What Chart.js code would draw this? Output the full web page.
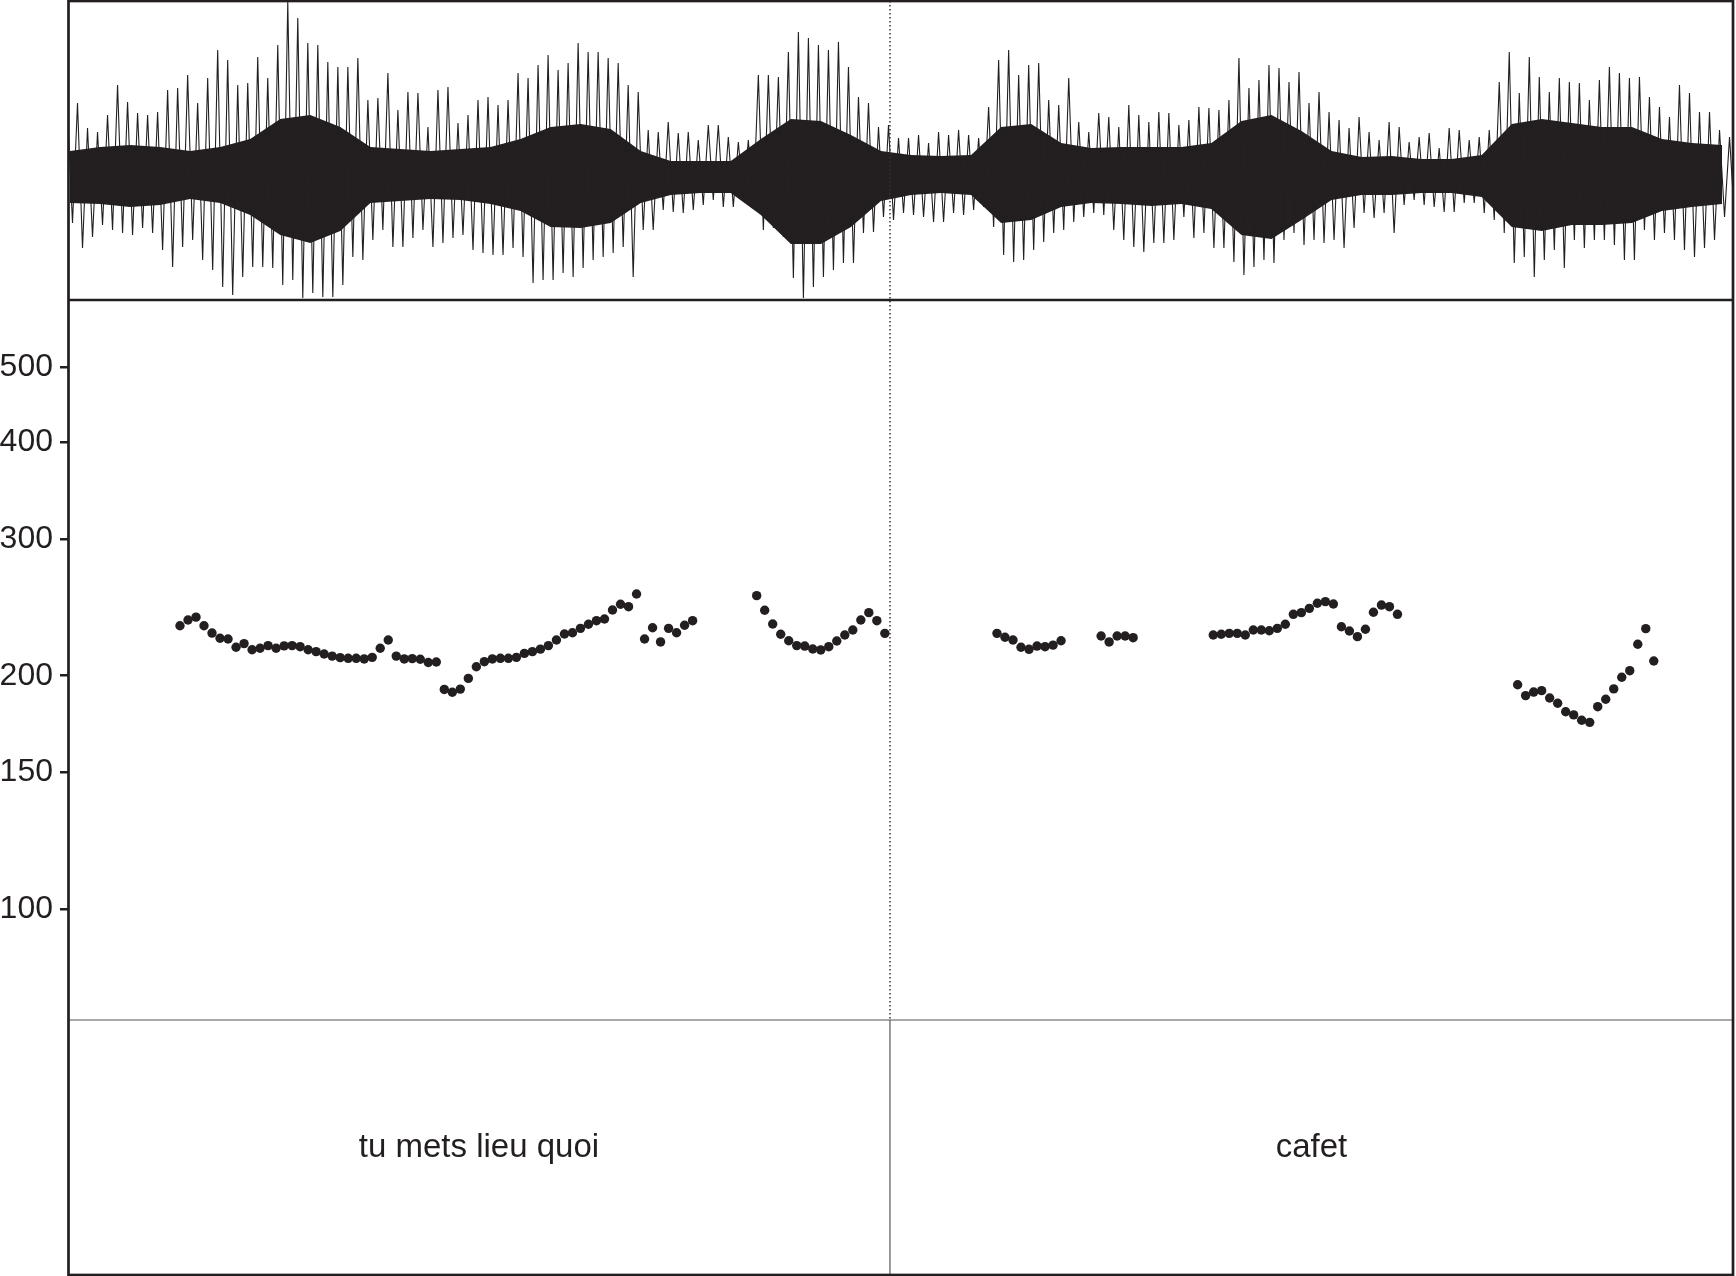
<!DOCTYPE html>
<html><head><meta charset="utf-8">
<script src="https://cdn.jsdelivr.net/npm/chart.js@4.4.1/dist/chart.umd.min.js"></script>
<style>html,body{margin:0;padding:0;background:#fff;}canvas{display:block;}</style>
</head><body>
<canvas id="c" width="1736" height="1276"></canvas>
<script>
// ---- time axis (seconds) ----
const duration = 2.0787;
const boundaryTime = 1.0262;

// ---- text tier ----
const tierLabels = ["tu mets lieu quoi", "cafet"];
const tierStarts = [0, 1.0262];
const tierEnds = [1.0262, 2.0787];

// ---- pitch (Hz), one value per 10 ms frame, null = unvoiced ----
const pitchTicks = [100, 150, 200, 300, 400, 500];
const pitchStart = 0.1398;
const pitchStep = 0.01;
const f0Hz = [
  232, 236, 238, 232, 227, 223.5, 223, 217.6, 220, 216,
  217, 218.7, 217, 218.5, 218.7, 218, 216, 214.8, 213.3, 212,
  211, 210.6, 210.6, 210.2, 211.2, 217, 222.4, 212, 210.2, 210.4,
  210, 208, 208.3, 192, 190.4, 192.2, 198.4, 205.4, 208.5, 210.2,
  210.6, 210.6, 211.2, 213.7, 214.8, 216.4, 218.7, 222.4, 226.4, 227.2,
  230.2, 233, 235.5, 236.7, 243.1, 247.3, 245.5, 254.9, 223, 230.6,
  221.1, 230.2, 227.2, 232.3, 235.5, null, null, null, null, null,
  null, null, 253.7, 242.9, 233.2, 226.2, 221.9, 218.7, 218.4, 216.5,
  215.9, 218, 221.7, 225.7, 229.1, 236, 241.2, 235.5, 226.8, null,
  null, null, null, null, null, null, null, null, null, null,
  null, null, 226.8, 224.2, 222.4, 217.6, 216.3, 218.4, 218, 219,
  221.9, null, null, null, null, 225, 221.1, 225, 225, 223.9,
  null, null, null, null, null, null, null, null, null, 225.7,
  226.2, 226.8, 226.8, 225.7, 229.1, 229.1, 228.6, 230.2, 233, 240,
  241.2, 244.3, 248, 249.2, 247.5, 231.3, 228.4, 224.6, 229.6, 241.5,
  246.7, 245.5, 240, null, null, null, null, null, null, null,
  null, null, null, null, null, null, null, 194.7, 188.5, 190.5,
  191.3, 187.2, 184.3, 179.7, 178, 175.2, 174.1, 182.4, 186.5, 192.3,
  199.1, 203, 219.6, 230, 208.9
];

// ---- waveform: peak envelope per 12.5 ms bin (arbitrary amplitude units) ----
const waveStart = 0.0025;
const waveStep = 0.0125;
const wavePeakHi = [
  61, 71, 46, 42, 59, 89, 72, 61, 59, 62,
  84, 86, 99, 71, 96, 124, 114, 89, 91, 117,
  96, 129, 172, 156, 131, 129, 112, 107, 107, 116,
  74, 76, 101, 64, 82, 81, 47, 84, 87, 51,
  59, 74, 77, 69, 74, 101, 96, 109, 119, 104,
  111, 131, 122, 122, 116, 111, 89, 82, 44, 42,
  52, 41, 42, 34, 49, 49, 37, 32, 34, 99,
  99, 97, 122, 142, 136, 129, 124, 132, 107, 77,
  71, 47, 49, 36, 36, 39, 31, 42, 39, 44,
  39, 36, 67, 114, 124, 99, 109, 111, 74, 69,
  96, 52, 42, 61, 57, 47, 69, 59, 52, 62,
  61, 49, 54, 67, 66, 64, 74, 116, 86, 94,
  109, 106, 92, 102, 71, 82, 62, 54, 46, 57,
  42, 34, 52, 47, 32, 37, 41, 26, 46, 44,
  34, 37, 44, 92, 122, 81, 117, 97, 82, 96,
  92, 91, 74, 94, 107, 101, 96, 97, 77, 67,
  57, 89, 81, 62, 62, 44, 37
];
const wavePeakLo = [
  -49, -74, -63, -51, -56, -59, -61, -54, -59, -76,
  -93, -73, -66, -86, -96, -113, -121, -103, -93, -93,
  -94, -111, -106, -124, -119, -123, -123, -111, -83, -86,
  -66, -56, -73, -73, -64, -56, -73, -69, -64, -61,
  -76, -79, -81, -81, -74, -83, -109, -106, -106, -99,
  -103, -94, -86, -83, -79, -73, -103, -56, -56, -36,
  -38, -39, -36, -31, -26, -33, -33, -23, -33, -56,
  -54, -63, -104, -124, -113, -103, -96, -89, -89, -59,
  -58, -43, -46, -39, -41, -43, -48, -48, -39, -41,
  -36, -33, -53, -81, -88, -86, -76, -68, -59, -56,
  -48, -43, -39, -41, -56, -66, -73, -78, -69, -69,
  -66, -43, -64, -59, -74, -74, -88, -101, -93, -86,
  -89, -66, -59, -71, -66, -69, -66, -74, -54, -39,
  -44, -39, -59, -31, -26, -31, -33, -38, -38, -29,
  -29, -39, -46, -59, -89, -83, -103, -86, -76, -94,
  -66, -74, -66, -66, -71, -86, -86, -56, -66, -59,
  -66, -76, -83, -74, -66, -43, -46
];
// solid core of the waveform per 37.5 ms bin
const coreStart = 0.0025;
const coreStep = 0.0375;
const waveCoreHi = [
  23, 27, 29, 27, 23, 27, 35, 55, 59, 47,
  27, 25, 23, 25, 27, 35, 47, 50, 45, 23,
  13, 13, 13, 35, 55, 53, 39, 23, 19, 18,
  19, 47, 50, 31, 26, 27, 27, 27, 31, 53,
  59, 43, 23, 17, 18, 15, 15, 19, 50, 55,
  51, 47, 47, 35, 31, 29
];
const waveCoreLo = [
  -29, -30, -33, -31, -25, -29, -41, -61, -69, -57,
  -29, -27, -25, -26, -30, -37, -53, -54, -49, -29,
  -21, -19, -19, -41, -70, -70, -53, -27, -21, -19,
  -21, -49, -46, -33, -29, -30, -32, -30, -35, -61,
  -65, -46, -26, -21, -21, -19, -19, -23, -53, -57,
  -51, -51, -49, -37, -33, -30
];

// ---- build library data ----
const pitchData = [];
f0Hz.forEach((v, i) => { if (v !== null) pitchData.push({x: pitchStart + i * pitchStep, y: v}); });
const waveData = [];
wavePeakHi.forEach((hi, k) => {
  const t = waveStart + k * waveStep;
  waveData.push({x: t - waveStep / 4, y: hi});
  waveData.push({x: t + waveStep / 4, y: wavePeakLo[k]});
});
const coreHiData = waveCoreHi.map((v, k) => ({x: coreStart + k * coreStep, y: v}));
const coreLoData = waveCoreLo.map((v, k) => ({x: coreStart + k * coreStep, y: v}));

const INK = '#231f20';
const FONT = '"Liberation Sans", Arial, Helvetica, sans-serif';

const framePlugin = {
  id: 'frame',
  afterDraw(chart) {
    const {ctx, chartArea: a, scales: s} = chart;
    const xb = s.x.getPixelForValue(boundaryTime);
    ctx.save();
    ctx.strokeStyle = '#333';
    ctx.lineWidth = 1.5;
    ctx.setLineDash([1.5, 2.5]);
    ctx.beginPath(); ctx.moveTo(xb, s.yWave.top); ctx.lineTo(xb, s.yPitch.bottom); ctx.stroke();
    ctx.setLineDash([]);
    ctx.strokeStyle = '#555';
    ctx.lineWidth = 1.2;
    ctx.beginPath(); ctx.moveTo(xb, s.yTier.top); ctx.lineTo(xb, s.yTier.bottom); ctx.stroke();
    ctx.beginPath(); ctx.moveTo(a.left, s.yPitch.bottom); ctx.lineTo(a.right, s.yPitch.bottom); ctx.stroke();
    ctx.strokeStyle = INK;
    ctx.lineWidth = 2.7;
    ctx.beginPath(); ctx.moveTo(a.left, s.yWave.bottom); ctx.lineTo(a.right, s.yWave.bottom); ctx.stroke();
    ctx.strokeRect(a.left + 0.5, a.top, a.right - a.left - 0.5, a.bottom - a.top);
    ctx.fillStyle = INK;
    ctx.font = '33px ' + FONT;
    ctx.textAlign = 'center';
    ctx.textBaseline = 'middle';
    const yMid = s.yTier.getPixelForValue(0.5);
    tierLabels.forEach((lab, i) => {
      const xm = s.x.getPixelForValue((tierStarts[i] + tierEnds[i]) / 2);
      ctx.fillText(lab, xm, yMid);
    });
    ctx.restore();
  }
};

const fixBox = s => {
  s.width = 68;
  s.paddingTop = 0; s.paddingBottom = 0; s.paddingLeft = 0; s.paddingRight = 0;
};

new Chart(document.getElementById('c'), {
  type: 'line',
  data: {
    datasets: [
      {label: 'F0', data: pitchData, yAxisID: 'yPitch', showLine: false,
       pointRadius: 4.7, pointBackgroundColor: INK, pointBorderWidth: 0, pointBorderColor: INK},
      {label: 'waveform', data: waveData, yAxisID: 'yWave', borderColor: INK,
       borderWidth: 1.1, pointRadius: 0, tension: 0, fill: false},
      {label: 'coreHi', data: coreHiData, yAxisID: 'yWave', borderWidth: 0,
       borderColor: INK, pointRadius: 0, tension: 0, fill: false},
      {label: 'coreLo', data: coreLoData, yAxisID: 'yWave', borderWidth: 0,
       borderColor: INK, pointRadius: 0, tension: 0, fill: '-1', backgroundColor: INK}
    ]
  },
  options: {
    responsive: false,
    animation: false,
    devicePixelRatio: 1,
    events: [],
    layout: {autoPadding: false, padding: {top: 1, bottom: 1, left: 0, right: 3}},
    plugins: {legend: {display: false}, tooltip: {enabled: false}},
    scales: {
      x: {type: 'linear', min: 0, max: duration, display: false,
        afterFit: s => { s.paddingLeft = 0; s.paddingRight = 0; }},
      yWave: {type: 'linear', position: 'left', stack: 'v', stackWeight: 299, weight: 3,
        min: -126, max: 173, ticks: {display: false}, grid: {display: false},
        border: {display: false}, afterFit: fixBox},
      yPitch: {type: 'logarithmic', position: 'left', stack: 'v', stackWeight: 720, weight: 2,
        min: 71.91, max: 610.6,
        afterBuildTicks: s => { s.ticks = pitchTicks.map(v => ({value: v})); },
        ticks: {callback: v => String(v), font: {family: FONT, size: 32}, color: INK,
          padding: 7, autoSkip: false, maxRotation: 0},
        grid: {drawOnChartArea: false, drawTicks: true, tickLength: 8, color: INK, lineWidth: 2.5},
        border: {display: false}, afterFit: fixBox},
      yTier: {type: 'linear', position: 'left', stack: 'v', stackWeight: 255, weight: 1,
        min: 0, max: 1, ticks: {display: false}, grid: {display: false},
        border: {display: false}, afterFit: fixBox}
    }
  },
  plugins: [framePlugin]
});
</script>
</body></html>
